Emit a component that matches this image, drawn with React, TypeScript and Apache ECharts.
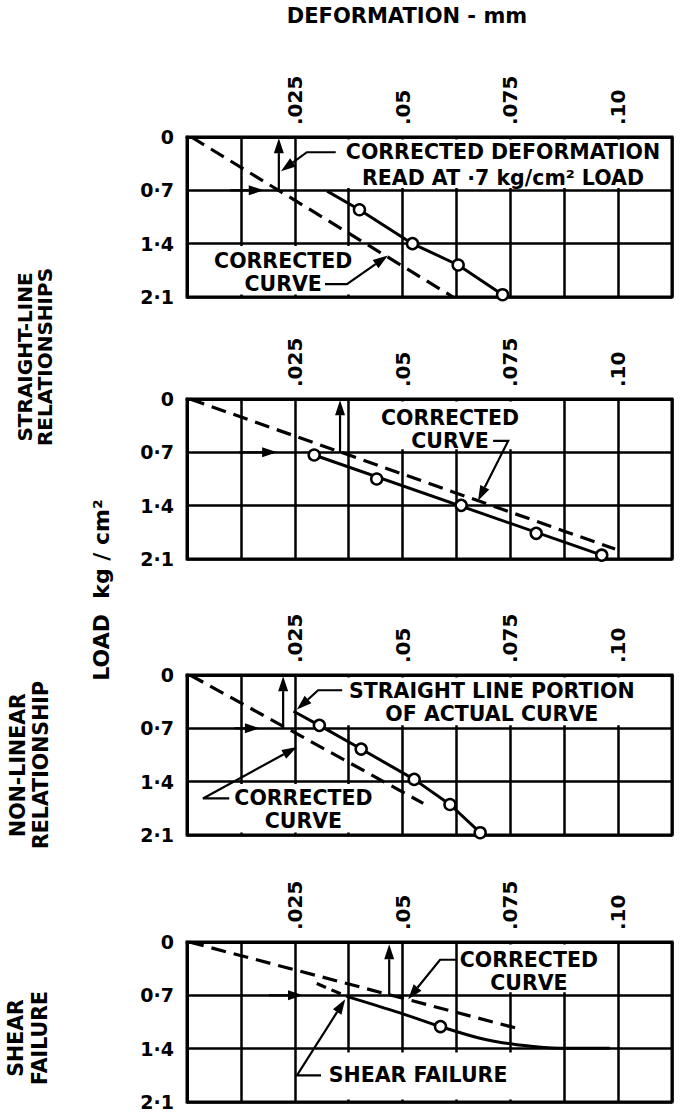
import React, { useEffect, useRef } from 'react';
import * as echarts from 'echarts';

// ---------- axes ----------
const X_MAX = 0.1125;
const X_STEP = 0.0125;
const Y_MAX = 2.1;
const Y_STEP = 0.7;
const X_TICK_VALUES = [0.025, 0.05, 0.075, 0.1];
const X_TICK_LABELS = ['.025', '.05', '.075', '.10'];
const Y_TICK_VALUES = [0, 0.7, 1.4, 2.1];
const Y_TICK_LABELS = ['0', '0·7', '1·4', '2·1'];

// ---------- data (deformation mm, load kg/cm2) ----------
// Panel 1 – straight-line relationship
const p1Corrected: [number, number][] = [[0.001, 0], [0.0617, 2.1]];
const p1Actual: [number, number][] = [[0.0325, 0.71], [0.04, 0.955], [0.0523, 1.4], [0.0629, 1.68], [0.0732, 2.07]];
const p1Readings: [number, number][] = [[0.04, 0.955], [0.0523, 1.4], [0.0629, 1.68], [0.0732, 2.07]];
// Panel 2 – straight-line relationship
const p2Corrected: [number, number][] = [[0.0007, 0], [0.0993, 1.97]];
const p2Actual: [number, number][] = [[0.0295, 0.735], [0.0962, 2.05]];
const p2Readings: [number, number][] = [[0.0295, 0.735], [0.044, 1.05], [0.0636, 1.396], [0.081, 1.763], [0.0962, 2.05]];
// Panel 3 – non-linear relationship
const p3Corrected: [number, number][] = [[0.0007, 0], [0.0548, 1.685]];
const p3Actual: [number, number][] = [[0.0247, 0.476], [0.0307, 0.661], [0.0404, 0.972], [0.0527, 1.37], [0.061, 1.7], [0.068, 2.07]];
const p3Readings: [number, number][] = [[0.0307, 0.661], [0.0404, 0.972], [0.0527, 1.37], [0.061, 1.7], [0.068, 2.07]];
// Panel 4 – shear failure
const p4Corrected: [number, number][] = [[0.0005, 0], [0.0768, 1.137]];
const p4Extension: [number, number][] = [[0.0301, 0.545], [0.037, 0.713]];
const p4Actual: [number, number][] = [[0.037, 0.713], [0.0494, 0.93], [0.0588, 1.11], [0.0687, 1.274], [0.0765, 1.348], [0.0865, 1.396], [0.0981, 1.396]];
const p4Readings: [number, number][] = [[0.0588, 1.11]];

// ---------- annotations (in data coordinates of each panel) ----------
type Pt = [number, number];
type Annot =
  | { kind: 'box'; from: Pt; to: Pt }
  | { kind: 'label'; at: Pt; text: string; lineHeight: number }
  | { kind: 'arrow'; path: Pt[] };

const p1Notes: Annot[] = [
  { kind: 'box', from: [0.0322, 0], to: [X_MAX, 0.67] },
  { kind: 'box', from: [0, 1.43], to: [0.0425, 2.1] },
  { kind: 'label', at: [0.0733, 0.363], text: 'CORRECTED DEFORMATION\nREAD AT ·7 kg/cm² LOAD', lineHeight: 26 },
  { kind: 'label', at: [0.0223, 1.776], text: 'CORRECTED\nCURVE', lineHeight: 23 },
  { kind: 'arrow', path: [[0.01, 0.7], [0.0178, 0.7]] },
  { kind: 'arrow', path: [[0.0213, 0.7], [0.0213, 0.015]] },
  { kind: 'arrow', path: [[0.0345, 0.2], [0.0278, 0.2], [0.0218, 0.45]] },
  { kind: 'arrow', path: [[0.032, 1.93], [0.0371, 1.93], [0.0466, 1.555]] },
];
const p2Notes: Annot[] = [
  { kind: 'box', from: [0.0394, 0], to: [0.0789, 0.66] },
  { kind: 'label', at: [0.061, 0.395], text: 'CORRECTED\nCURVE', lineHeight: 23 },
  { kind: 'arrow', path: [[0.012, 0.7], [0.0209, 0.7]] },
  { kind: 'arrow', path: [[0.0355, 0.7], [0.0355, 0.015]] },
  { kind: 'arrow', path: [[0.071, 0.55], [0.0745, 0.55], [0.0675, 1.335]] },
];
const p3Notes: Annot[] = [
  { kind: 'box', from: [0.0332, 0], to: [X_MAX, 0.66] },
  { kind: 'box', from: [0, 1.43], to: [0.0448, 2.1] },
  { kind: 'label', at: [0.0707, 0.357], text: 'STRAIGHT LINE PORTION\nOF ACTUAL CURVE', lineHeight: 23 },
  { kind: 'label', at: [0.027, 1.77], text: 'CORRECTED\nCURVE', lineHeight: 23 },
  { kind: 'arrow', path: [[0.011, 0.7], [0.0169, 0.7]] },
  { kind: 'arrow', path: [[0.0223, 0.7], [0.0223, 0.015]] },
  { kind: 'arrow', path: [[0.036, 0.2], [0.0304, 0.2], [0.0255, 0.454]] },
  { kind: 'arrow', path: [[0.0098, 1.62], [0.0037, 1.62], [0.0255, 0.946]] },
];
const p4Notes: Annot[] = [
  { kind: 'box', from: [0.0633, 0], to: [0.0985, 0.66] },
  { kind: 'box', from: [0.0262, 1.45], to: [0.0854, 2.1] },
  { kind: 'label', at: [0.0793, 0.382], text: 'CORRECTED\nCURVE', lineHeight: 23 },
  { kind: 'label', at: [0.0536, 1.75], text: 'SHEAR FAILURE', lineHeight: 23 },
  { kind: 'arrow', path: [[0.019, 0.7], [0.0269, 0.7]] },
  { kind: 'arrow', path: [[0.0469, 0.7], [0.0469, 0.03]] },
  { kind: 'arrow', path: [[0.0626, 0.233], [0.0587, 0.233], [0.0513, 0.75]] },
  { kind: 'arrow', path: [[0.0311, 1.75], [0.0255, 1.75], [0.0367, 0.752]] },
];

const PANELS = [
  { corrected: p1Corrected, extension: [] as [number, number][], actual: p1Actual, readings: p1Readings, smooth: false as boolean | number, notes: p1Notes },
  { corrected: p2Corrected, extension: [] as [number, number][], actual: p2Actual, readings: p2Readings, smooth: false as boolean | number, notes: p2Notes },
  { corrected: p3Corrected, extension: [] as [number, number][], actual: p3Actual, readings: p3Readings, smooth: false as boolean | number, notes: p3Notes },
  { corrected: p4Corrected, extension: p4Extension, actual: p4Actual, readings: p4Readings, smooth: 0.35 as boolean | number, notes: p4Notes },
];

// ---------- layout ----------
const FONT = '"DejaVu Sans", sans-serif';
const GRID_TOPS = [137, 399, 675, 942];
const GRID_LEFT = 187;
const GRID_WIDTH = 485;
const GRID_HEIGHT = 160;
const NOTE_SIZE = 20.5;

function xLabel(v: number): string {
  const k = X_TICK_VALUES.findIndex((t) => Math.abs(t - v) < 1e-6);
  return k >= 0 ? X_TICK_LABELS[k] : '';
}
function yLabel(v: number): string {
  const k = Y_TICK_VALUES.findIndex((t) => Math.abs(t - v) < 1e-6);
  return k >= 0 ? Y_TICK_LABELS[k] : '';
}

function makeRenderItem(notes: Annot[]) {
  return (params: any, api: any) => {
    const a = notes[params.dataIndex];
    const cs = params.coordSys;
    if (a.kind === 'box') {
      const p1 = api.coord(a.from);
      const p2 = api.coord(a.to);
      const x1 = Math.max(Math.min(p1[0], p2[0]), cs.x + 2.5);
      const x2 = Math.min(Math.max(p1[0], p2[0]), cs.x + cs.width - 2.5);
      const y1 = Math.max(Math.min(p1[1], p2[1]), cs.y + 2.5);
      const y2 = Math.min(Math.max(p1[1], p2[1]), cs.y + cs.height - 2.5);
      return {
        type: 'rect',
        shape: { x: x1, y: y1, width: x2 - x1, height: y2 - y1 },
        style: { fill: '#fff' },
      };
    }
    if (a.kind === 'label') {
      const p = api.coord(a.at);
      return {
        type: 'text',
        x: p[0],
        y: p[1],
        style: {
          text: a.text,
          fill: '#000',
          fontSize: NOTE_SIZE,
          fontWeight: 'bold',
          fontFamily: FONT,
          align: 'center',
          verticalAlign: 'middle',
          lineHeight: a.lineHeight,
        },
      };
    }
    const pts = a.path.map((p) => api.coord(p));
    const n = pts.length;
    const [x2, y2] = pts[n - 1];
    const [x1, y1] = pts[n - 2];
    const len = Math.hypot(x2 - x1, y2 - y1) || 1;
    const ux = (x2 - x1) / len;
    const uy = (y2 - y1) / len;
    const hl = 15;
    const hw = 5;
    const bx = x2 - ux * hl;
    const by = y2 - uy * hl;
    const head = [
      [x2, y2],
      [bx - uy * hw, by + ux * hw],
      [bx + uy * hw, by - ux * hw],
    ];
    const line = pts.slice(0, n - 1).concat([[bx, by]]);
    return {
      type: 'group',
      children: [
        { type: 'polyline', shape: { points: line }, style: { stroke: '#000', lineWidth: 2.2, fill: null } },
        { type: 'polygon', shape: { points: head }, style: { fill: '#000' } },
      ],
    };
  };
}

function buildOption(): any {
  const grid = GRID_TOPS.map((top) => ({
    left: GRID_LEFT,
    top,
    width: GRID_WIDTH,
    height: GRID_HEIGHT,
    show: true,
    borderColor: '#000',
    borderWidth: 3,
    backgroundColor: 'transparent',
  }));
  const xAxis = GRID_TOPS.map((_, i) => ({
    type: 'value',
    gridIndex: i,
    position: 'top',
    min: 0,
    max: X_MAX,
    interval: X_STEP,
    axisLine: { show: true, lineStyle: { color: '#000', width: 3 } },
    axisTick: { show: false },
    splitLine: { show: true, lineStyle: { color: '#000', width: 2.5 } },
    axisLabel: {
      rotate: 90,
      margin: 12,
      color: '#000',
      fontFamily: FONT,
      fontWeight: 'bold',
      fontSize: 20,
      formatter: (v: number) => xLabel(v),
    },
  }));
  const yAxis = GRID_TOPS.map((_, i) => ({
    type: 'value',
    gridIndex: i,
    inverse: true,
    min: 0,
    max: Y_MAX,
    interval: Y_STEP,
    axisLine: { show: true, lineStyle: { color: '#000', width: 3 } },
    axisTick: { show: false },
    splitLine: { show: true, lineStyle: { color: '#000', width: 2.5 } },
    axisLabel: {
      margin: 13,
      color: '#000',
      fontFamily: FONT,
      fontWeight: 'bold',
      fontSize: 19,
      formatter: (v: number) => yLabel(v),
    },
  }));

  const series: any[] = [];
  PANELS.forEach((p, i) => {
    series.push({
      type: 'custom',
      xAxisIndex: i,
      yAxisIndex: i,
      z: 2,
      silent: true,
      clip: false,
      encode: { x: 0, y: 1 },
      data: p.notes.map((_, k) => [0, 0, k]),
      renderItem: makeRenderItem(p.notes),
    });
    series.push({
      type: 'line',
      xAxisIndex: i,
      yAxisIndex: i,
      z: 3,
      silent: true,
      showSymbol: false,
      data: p.corrected,
      lineStyle: { color: '#000', width: 3.2, type: [15, 8] },
    });
    if (p.extension.length) {
      series.push({
        type: 'line',
        xAxisIndex: i,
        yAxisIndex: i,
        z: 3,
        silent: true,
        showSymbol: false,
        data: p.extension,
        lineStyle: { color: '#000', width: 3.2, type: [10, 6] },
      });
    }
    series.push({
      type: 'line',
      xAxisIndex: i,
      yAxisIndex: i,
      z: 3,
      silent: true,
      showSymbol: false,
      smooth: p.smooth,
      data: p.actual,
      lineStyle: { color: '#000', width: 3 },
    });
    series.push({
      type: 'scatter',
      xAxisIndex: i,
      yAxisIndex: i,
      z: 4,
      silent: true,
      symbol: 'circle',
      symbolSize: 11,
      data: p.readings,
      itemStyle: { color: '#fff', borderColor: '#000', borderWidth: 2.5, opacity: 1 },
    });
  });

  const sideText = (x: number, y: number, text: string, lineHeight: number, size: number) => ({
    type: 'text',
    x,
    y,
    rotation: Math.PI / 2,
    style: {
      text,
      fill: '#000',
      fontSize: size,
      fontWeight: 'bold',
      fontFamily: FONT,
      align: 'center',
      verticalAlign: 'middle',
      lineHeight,
    },
  });

  return {
    animation: false,
    backgroundColor: '#fff',
    grid,
    xAxis,
    yAxis,
    series,
    graphic: [
      {
        type: 'text',
        x: 407,
        y: 16,
        style: {
          text: 'DEFORMATION - mm',
          fill: '#000',
          fontSize: 21,
          fontWeight: 'bold',
          fontFamily: FONT,
          align: 'center',
          verticalAlign: 'middle',
        },
      },
      sideText(34.5, 357, 'STRAIGHT-LINE\nRELATIONSHIPS', 20, 20),
      sideText(101, 590, 'LOAD  kg / cm²', 22, 22),
      sideText(29.5, 765, 'NON-LINEAR\nRELATIONSHIP', 23, 20.5),
      sideText(28, 1038, 'SHEAR\nFAILURE', 24, 20.5),
    ],
  };
}

export default function App() {
  const ref = useRef<HTMLDivElement>(null);
  useEffect(() => {
    if (!ref.current) return;
    const chart = echarts.init(ref.current, undefined, { renderer: 'svg' });
    chart.setOption(buildOption());
    return () => chart.dispose();
  }, []);
  return (
    <div
      ref={ref}
      style={{ position: 'fixed', left: 0, top: 0, width: 680, height: 1113, background: '#fff' }}
    />
  );
}
